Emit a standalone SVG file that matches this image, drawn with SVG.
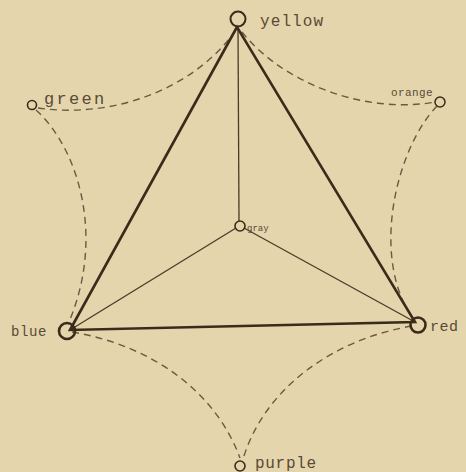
<svg xmlns="http://www.w3.org/2000/svg" width="466" height="472" viewBox="0 0 466 472">
<style>
.dash{fill:none;stroke:#6a5a40;stroke-width:1.4;stroke-dasharray:7,5}
.thick{fill:none;stroke:#3a2c1a;stroke-width:2.6;stroke-linecap:round}
.thin{fill:none;stroke:#4a3b26;stroke-width:1.3}
.node{fill:none;stroke:#3a2c1a}
.lbl{font-family:"Liberation Mono","DejaVu Sans Mono",monospace;fill:#5a4a35}
</style>
<rect width="466" height="472" fill="#e4d5ad"/>
<g id="connectors">
<path class="dash" d="M38,108 C115,119 195,88 236,30"/>
<path class="dash" d="M242,32 C280,80 360,115 436,102"/>
<path class="dash" d="M36,110 C80,150 105,240 68,324"/>
<path class="dash" d="M437,106 C395,150 370,260 414,320"/>
<path class="dash" d="M72,332 C150,345 215,390 240,458"/>
<path class="dash" d="M244,456 C265,390 330,340 412,326"/>
<path class="thin" d="M238,27 L239,221"/>
<path class="thin" d="M236,228 L70,330"/>
<path class="thin" d="M244,228 L415,322"/>
<path class="thick" d="M237,27 L70,330 L415,322 Z"/>
</g>
<g id="yellow"><circle class="node" cx="238" cy="19" r="7.5" stroke-width="2"/><text class="lbl" x="260" y="26" font-size="16" letter-spacing="1.1">yellow</text></g>
<g id="green"><circle class="node" cx="32" cy="105" r="4.5" stroke-width="1.6"/><text class="lbl" x="44" y="104" font-size="17" letter-spacing="2.3">green</text></g>
<g id="orange"><circle class="node" cx="440" cy="102" r="5" stroke-width="1.5"/><text class="lbl" x="391" y="96" font-size="11" letter-spacing="0.4">orange</text></g>
<g id="gray"><circle class="node" cx="240" cy="226" r="5" stroke-width="1.6"/><text class="lbl" x="247" y="231" font-size="9">gray</text></g>
<g id="blue"><circle class="node" cx="67" cy="331" r="8" stroke-width="2.6"/><text class="lbl" x="11" y="336" font-size="14" letter-spacing="0.6">blue</text></g>
<g id="red"><circle class="node" cx="418" cy="325" r="7.5" stroke-width="2.6"/><text class="lbl" x="430" y="331" font-size="15" letter-spacing="0.5">red</text></g>
<g id="purple"><circle class="node" cx="240" cy="466" r="5" stroke-width="1.6"/><text class="lbl" x="255" y="468" font-size="16" letter-spacing="0.7">purple</text></g>
</svg>
